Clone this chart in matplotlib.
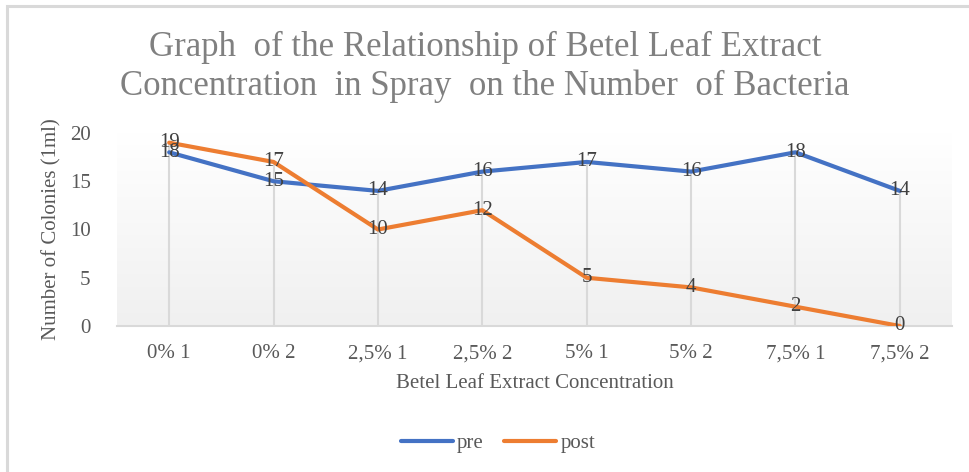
import numpy as np
import matplotlib
matplotlib.use("Agg")
import matplotlib.pyplot as plt
from matplotlib.patches import Rectangle

categories = ["0% 1", "0% 2", "2,5% 1", "2,5% 2", "5% 1", "5% 2", "7,5% 1", "7,5% 2"]
pre = [18, 15, 14, 16, 17, 16, 18, 14]
post = [19, 17, 10, 12, 5, 4, 2, 0]

plt.rcParams['font.family'] = ['Liberation Serif', 'DejaVu Serif']

W, H = 970, 472
fig = plt.figure(figsize=(W / 100, H / 100), dpi=100)

# chart frame (only left/top edges visible in the crop)
fig.patches.append(Rectangle((7 / W, -0.1), 1.2, (H - 6) / H + 0.1, transform=fig.transFigure,
                             fill=False, edgecolor="#d9d9d9", linewidth=2.2, zorder=0))

left, right, top, bottom = 117, 952, 133, 326
ax = fig.add_axes([left / W, 1 - bottom / H, (right - left) / W, (bottom - top) / H])
ax.patch.set_alpha(0)

x = np.arange(len(categories))

# gradient fill of the plot area
grad = np.linspace(0, 1, 256).reshape(-1, 1)
ax.imshow(grad, extent=[-0.5, len(categories) - 0.5, 0, 20], aspect="auto",
          cmap=matplotlib.colors.LinearSegmentedColormap.from_list("g", ["#f0f0f0", "#ffffff"]),
          origin="lower", zorder=0)
ax.set_xlim(-0.5, len(categories) - 0.5)
ax.set_ylim(0, 20)

# drop lines
tops = np.maximum(pre, post)
ax.vlines(x, 0, tops, color="#d9d9d9", linewidth=1.5, zorder=1)

ax.plot(x, pre, color="#4472c4", linewidth=3, solid_capstyle="round", label="pre", zorder=3)
ax.plot(x, post, color="#ed7d31", linewidth=3, solid_capstyle="round", label="post", zorder=3)

for xi, v in zip(x, pre):
    ax.text(xi, v, str(v), ha="center", va="center", fontsize=15, color="#404040", zorder=4)
for xi, v in zip(x, post):
    ax.text(xi, v, str(v), ha="center", va="center", fontsize=15, color="#404040", zorder=4)

for s in ["top", "right", "left"]:
    ax.spines[s].set_visible(False)
ax.spines["bottom"].set_color("#d9d9d9")
ax.spines["bottom"].set_linewidth(1.5)

ax.set_xticks(x)
ax.set_xticklabels(categories)
ax.set_yticks([0, 5, 10, 15, 20])
ax.tick_params(axis="both", length=0, labelsize=15, colors="#595959")
ax.tick_params(axis="x", pad=13)
ax.tick_params(axis="y", pad=19)

ax.set_xlabel("Betel Leaf Extract Concentration", fontsize=15, color="#595959", labelpad=8)
ax.set_ylabel("Number of Colonies (1ml)", fontsize=15, color="#595959", labelpad=6)

fig.text(0.5, 1 - 47 / H, "Graph  of the Relationship of Betel Leaf Extract", ha="center", va="center",
         fontsize=25, color="#808080")
fig.text(0.5, 1 - 86 / H, "Concentration  in Spray  on the Number  of Bacteria", ha="center", va="center",
         fontsize=25, color="#808080")

leg = fig.legend(loc="center", bbox_to_anchor=(498 / W, 1 - 443 / H), ncol=2, frameon=False,
                 fontsize=15, handlelength=2.5, handletextpad=0.2, columnspacing=1.0,
                 labelcolor="#595959")

fig.savefig("out.png", dpi=100)
